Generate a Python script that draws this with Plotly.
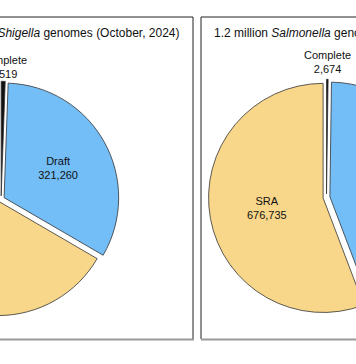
import plotly.graph_objects as go

# ---- data ----
categories = ["Complete", "Draft", "SRA"]
shigella_values = [5519, 321260, 652000]
salmonella_values = [2674, 533900, 676735]
left_title = "1 million <i>E. coli</i>/<i>Shigella</i> genomes (October, 2024)"
right_title = "1.2 million <i>Salmonella</i> genomes (October, 2024)"
colors = ["#111111", "#74BEF8", "#F8D68A"]

W, H = 700, 364
SHIFT = 200  # px of canvas hidden on the left of the window
FONT = "Liberation Sans, Arial, Helvetica, sans-serif"

def px(x):
    return x / W

def py(y):
    return (H - y) / H

half = 118
lc = (SHIFT + 1.1, 199.3)
rc = (SHIFT + 326.5, 197.3)

def pie(values, c):
    return go.Pie(
        labels=categories,
        values=values,
        sort=False,
        direction="clockwise",
        rotation=0,
        pull=[0.03, 0.03, 0.03],
        marker=dict(colors=colors, line=dict(color="#333333", width=0.8)),
        texttemplate="%{label}<br>%{value:,}",
        textposition=["none", "inside", "inside"],
        insidetextorientation="horizontal",
        textfont=dict(size=11, color="#111111", family=FONT),
        insidetextfont=dict(size=11, color="#111111", family=FONT),
        domain=dict(x=[px(c[0] - half), px(c[0] + half)],
                    y=[py(c[1] + half), py(c[1] - half)]),
        showlegend=False,
        hoverinfo="label+value",
    )

fig = go.Figure([pie(shigella_values, lc), pie(salmonella_values, rc)])

shapes = []
for (x0, x1) in [(SHIFT - 190, SHIFT + 193), (SHIFT + 201, SHIFT + 490)]:
    top, bot = 17, 339
    dark = dict(color="#222222", width=1)
    shapes.append(dict(type="line", xref="paper", yref="paper",
                       x0=px(x0), x1=px(x1), y0=py(top), y1=py(top), line=dark))
    shapes.append(dict(type="line", xref="paper", yref="paper",
                       x0=px(x0), x1=px(x0), y0=py(top), y1=py(bot), line=dark))
    shapes.append(dict(type="line", xref="paper", yref="paper",
                       x0=px(x1), x1=px(x1), y0=py(top), y1=py(bot), line=dark))
    shapes.append(dict(type="line", xref="paper", yref="paper",
                       x0=px(x0), x1=px(x1 + 1), y0=py(bot + 0.5), y1=py(bot + 0.5),
                       line=dict(color="#999999", width=2)))

lab_font = dict(size=11, color="#111111", family=FONT)
annotations = [
    dict(text=left_title, xref="paper", yref="paper", x=px(SHIFT + 182), y=py(33),
         xanchor="right", yanchor="middle", showarrow=False,
         font=dict(size=12, color="#111111", family=FONT)),
    dict(text=right_title, xref="paper", yref="paper", x=px(SHIFT + 212), y=py(33),
         xanchor="left", yanchor="middle", showarrow=False,
         font=dict(size=12, color="#111111", family=FONT)),
    dict(text=f"{categories[0]}<br>{shigella_values[0]:,}", xref="paper", yref="paper",
         x=px(lc[0] + 2), y=py(66.5), xanchor="center", yanchor="middle",
         showarrow=False, font=lab_font),
    dict(text=f"{categories[0]}<br>{salmonella_values[0]:,}", xref="paper", yref="paper",
         x=px(rc[0] + 1), y=py(62.5), xanchor="center", yanchor="middle",
         showarrow=False, font=lab_font),
]

fig.update_layout(
    width=W, height=H,
    margin=dict(l=0, r=0, t=0, b=0),
    paper_bgcolor="white",
    plot_bgcolor="white",
    shapes=shapes,
    annotations=annotations,
    font=dict(family=FONT),
)

post = """
document.body.style.margin='0';
document.body.style.overflow='hidden';
var gd = document.getElementById('{plot_id}');
gd.style.position='absolute';
gd.style.left='-%dpx';
gd.style.top='0px';
""" % SHIFT

fig.write_html("out.html", post_script=post, config={"displayModeBar": False})
